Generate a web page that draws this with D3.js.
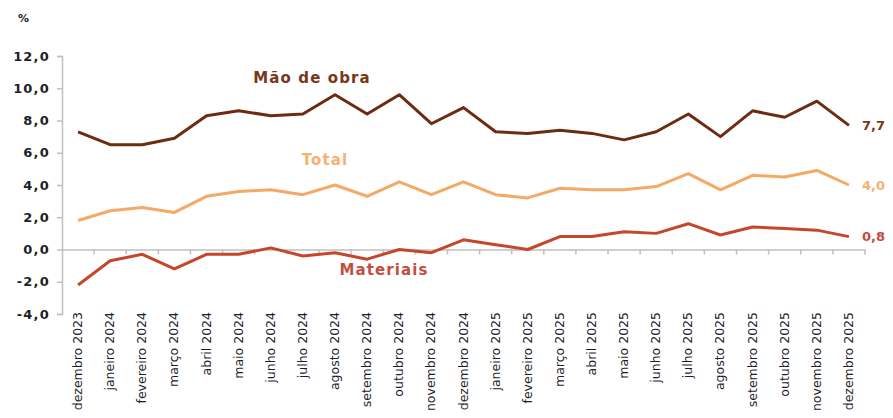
<!DOCTYPE html>
<html>
<head>
<meta charset="utf-8">
<script src="https://cdn.jsdelivr.net/npm/d3@7"></script>
<style>
  body { margin: 0; background: #fff; }
  svg { display: block; }
  text { font-family: "DejaVu Sans", Verdana, sans-serif; }
</style>
</head>
<body>
<svg id="chart" width="893" height="418"></svg>
<script>
// months, dez 2023 .. dez 2025
const months = ["dezembro 2023", "janeiro 2024", "fevereiro 2024", "março 2024", "abril 2024", "maio 2024",
  "junho 2024", "julho 2024", "agosto 2024", "setembro 2024", "outubro 2024", "novembro 2024", "dezembro 2024",
  "janeiro 2025", "fevereiro 2025", "março 2025", "abril 2025", "maio 2025", "junho 2025", "julho 2025",
  "agosto 2025", "setembro 2025", "outubro 2025", "novembro 2025", "dezembro 2025"];

const maoDeObra = [7.3, 6.5, 6.5, 6.9, 8.3, 8.6, 8.3, 8.4, 9.6, 8.4, 9.6, 7.8, 8.8,
  7.3, 7.2, 7.4, 7.2, 6.8, 7.3, 8.4, 7.0, 8.6, 8.2, 9.2, 7.7];
const total = [1.8, 2.4, 2.6, 2.3, 3.3, 3.6, 3.7, 3.4, 4.0, 3.3, 4.2, 3.4, 4.2,
  3.4, 3.2, 3.8, 3.7, 3.7, 3.9, 4.7, 3.7, 4.6, 4.5, 4.9, 4.0];
const materiais = [-2.2, -0.7, -0.3, -1.2, -0.3, -0.3, 0.1, -0.4, -0.2, -0.6, 0.0, -0.2, 0.6,
  0.3, 0.0, 0.8, 0.8, 1.1, 1.0, 1.6, 0.9, 1.4, 1.3, 1.2, 0.8];

const yTicks = [-4, -2, 0, 2, 4, 6, 8, 10, 12];

const series = [
  { name: "Mão de obra", values: maoDeObra, color: "#6B2C12", labelColor: "#7A3618", end: "7,7", lx: 312, ly: 78 },
  { name: "Total", values: total, color: "#F5A966", labelColor: "#F7B36E", end: "4,0", lx: 325, ly: 160 },
  { name: "Materiais", values: materiais, color: "#C4472B", labelColor: "#C24E42", end: "0,8", lx: 384, ly: 270 }
];

const svg = d3.select("#chart");

const x = d3.scaleBand().domain(months).range([62, 865]);
const y = d3.scaleLinear().domain([-4, 12]).range([314, 56]);

// y axis
const yAxis = svg.append("g")
  .attr("transform", "translate(62,0)")
  .call(d3.axisLeft(y).tickValues(yTicks).tickSize(5).tickPadding(7)
    .tickFormat(d => d.toFixed(1).replace(".", ",")));
yAxis.select(".domain").attr("stroke", "#BFBFBF").attr("stroke-width", 1.5);
yAxis.selectAll(".tick line").attr("stroke", "#BFBFBF").attr("stroke-width", 1.5);
yAxis.selectAll(".tick text")
  .attr("font-size", 13).attr("font-weight", "bold").attr("fill", "#1E1E28")
  .style("letter-spacing", "1.2px");

// x axis along zero
const xAxis = svg.append("g")
  .attr("transform", `translate(0,${y(0)})`)
  .call(d3.axisBottom(x).tickSize(0).tickFormat(""));
xAxis.select(".domain").attr("stroke", "#BFBFBF").attr("stroke-width", 1.5);
svg.append("g").selectAll("line")
  .data(months.slice(1).concat(["_end"]))
  .join("line")
  .attr("x1", (d, i) => x(months[0]) + (i + 1) * x.bandwidth())
  .attr("x2", (d, i) => x(months[0]) + (i + 1) * x.bandwidth())
  .attr("y1", y(0)).attr("y2", y(0) + 5)
  .attr("stroke", "#BFBFBF").attr("stroke-width", 1.5);

// month labels under the plot
svg.append("g").selectAll("text")
  .data(months)
  .join("text")
  .attr("transform", d => `translate(${x(d) + x.bandwidth() / 2 + 4},${y(-4) - 2}) rotate(-90)`)
  .attr("text-anchor", "end")
  .attr("font-size", 12.5)
  .attr("fill", "#1E1E28")
  .text(d => d);

// unit
svg.append("text")
  .attr("x", 18).attr("y", 22)
  .attr("font-size", 11).attr("font-weight", "bold").attr("fill", "#1E1E28")
  .text("%");

// lines
const line = d3.line()
  .x((d, i) => x(months[i]) + x.bandwidth() / 2)
  .y(d => y(d));

svg.append("g").selectAll("path")
  .data(series)
  .join("path")
  .attr("d", d => line(d.values))
  .attr("fill", "none")
  .attr("stroke", d => d.color)
  .attr("stroke-width", 3)
  .attr("stroke-linejoin", "round");

// series names
svg.append("g").selectAll("text")
  .data(series)
  .join("text")
  .attr("x", d => d.lx).attr("y", d => d.ly)
  .attr("text-anchor", "middle").attr("dominant-baseline", "central")
  .attr("font-size", 15).attr("font-weight", "bold")
  .style("letter-spacing", "1.1px")
  .attr("fill", d => d.labelColor)
  .text(d => d.name);

// end values
svg.append("g").selectAll("text")
  .data(series)
  .join("text")
  .attr("x", x(months[months.length - 1]) + x.bandwidth() / 2 + 13)
  .attr("y", d => y(d.values[d.values.length - 1]))
  .attr("dominant-baseline", "central")
  .attr("font-size", 13).attr("font-weight", "bold")
  .attr("fill", d => d.labelColor)
  .text(d => d.end);
</script>
</body>
</html>
